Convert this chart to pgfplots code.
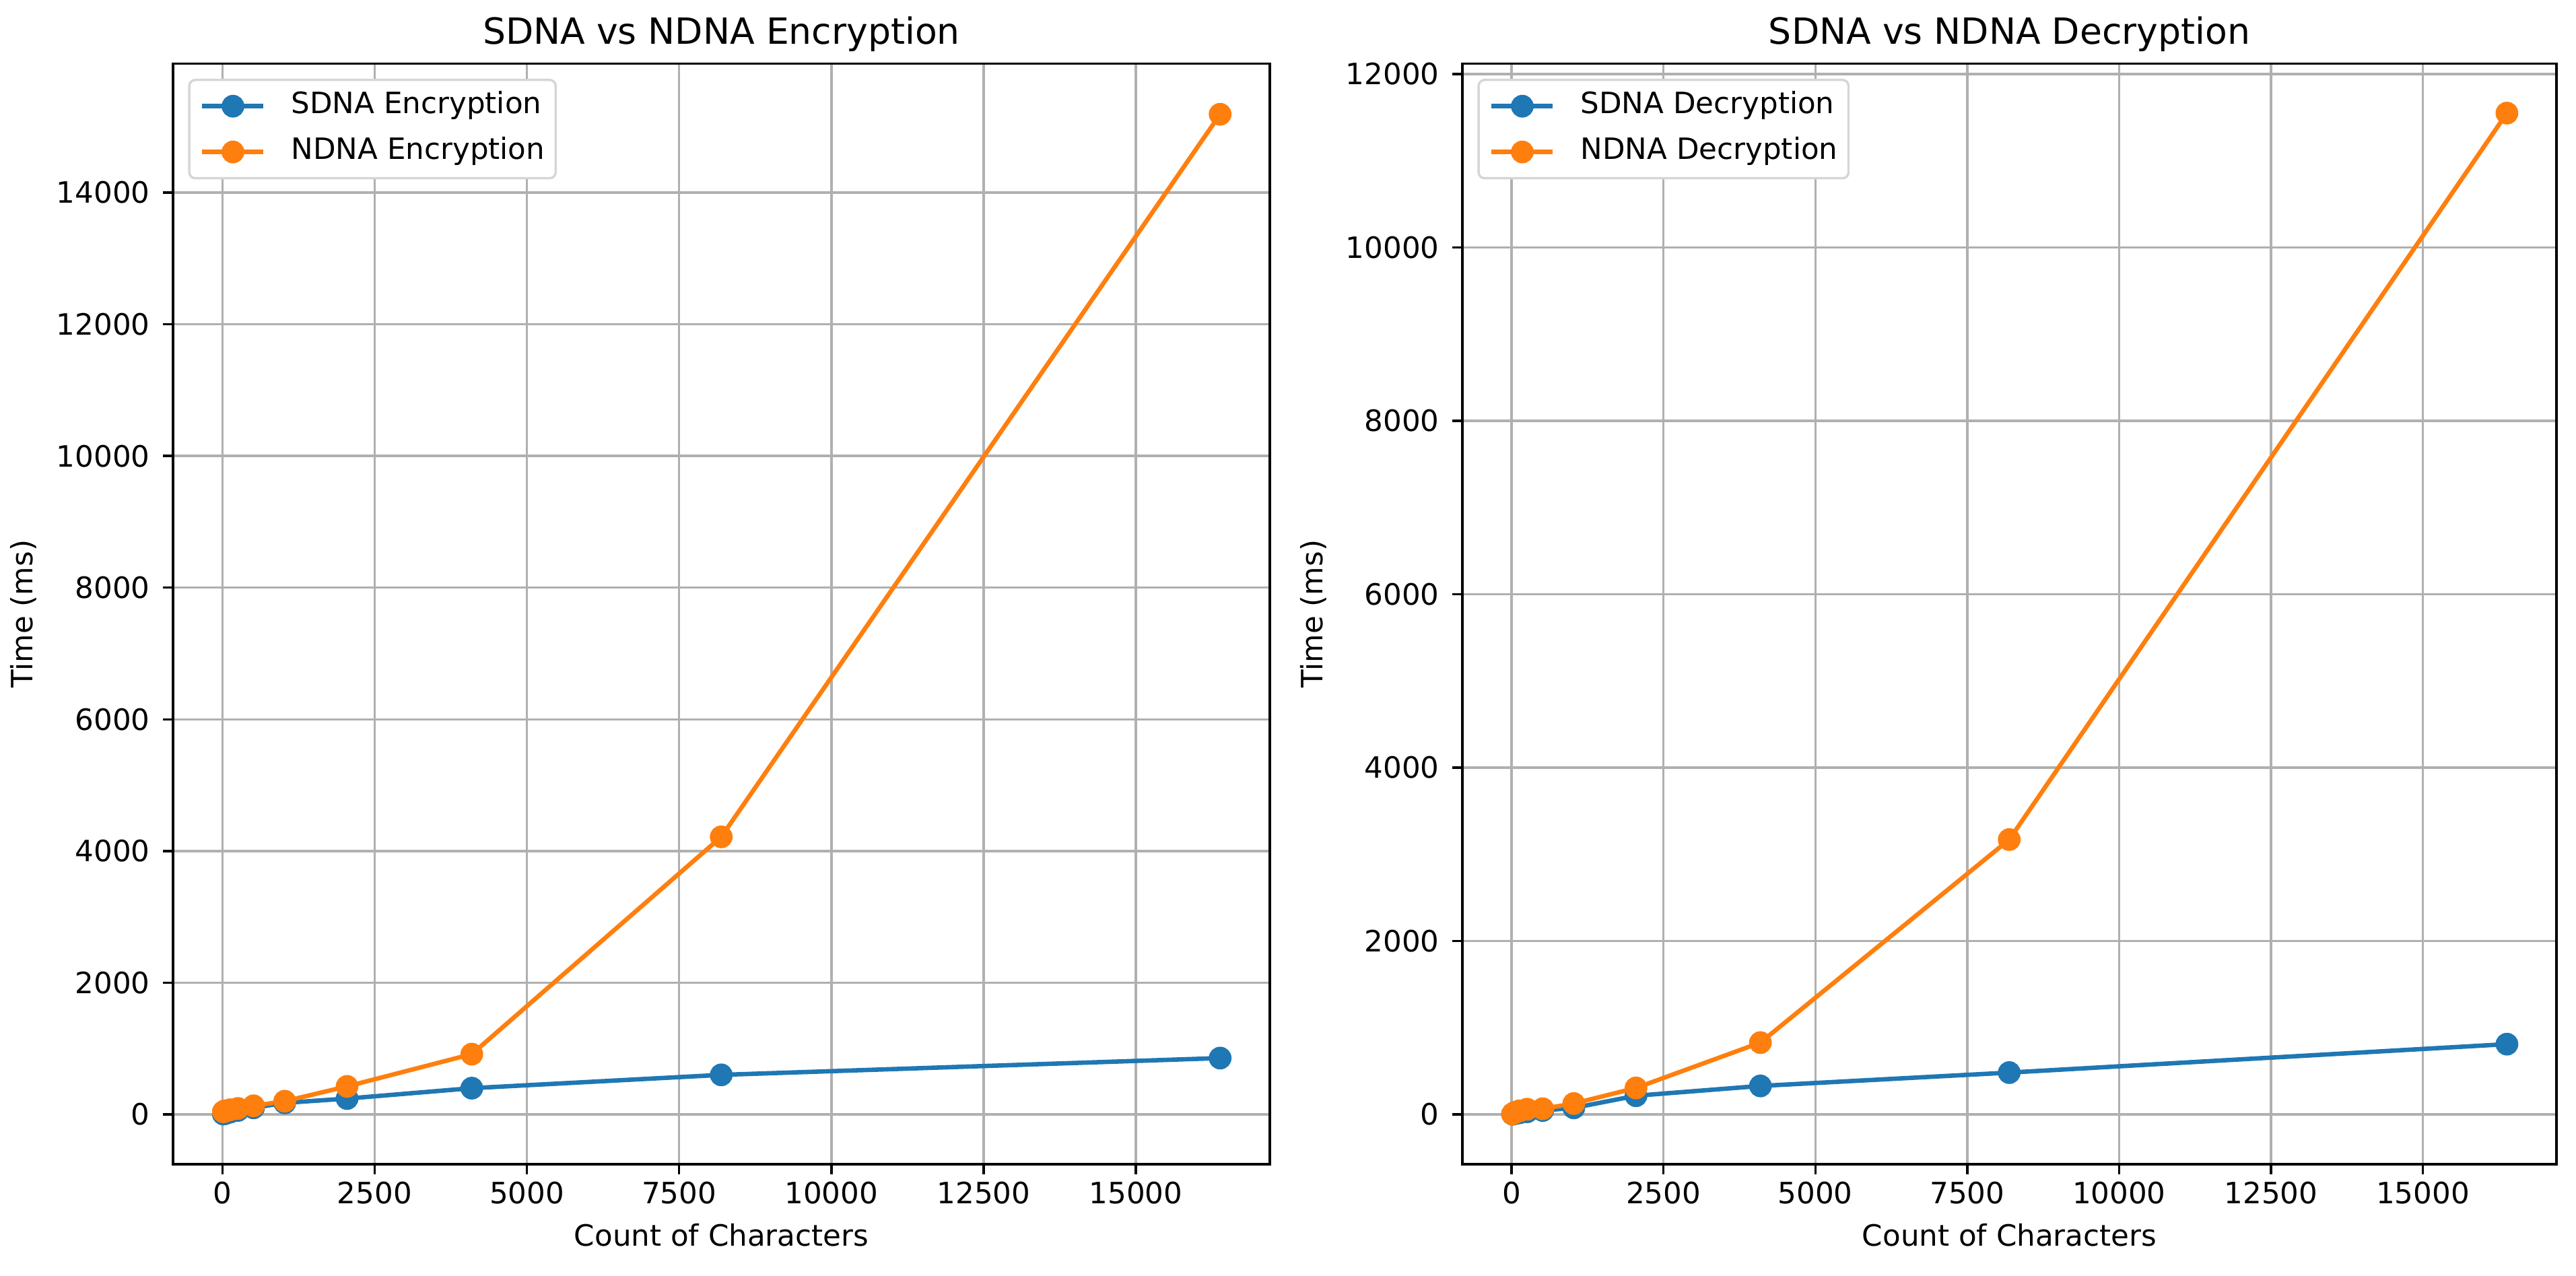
\documentclass[border=0pt]{standalone}
\usepackage{fontspec}
\setmainfont{DejaVu Sans}
\usepackage{pgfplots}
\pgfplotsset{compat=1.18}
\definecolor{tabblue}{HTML}{1F77B4}
\definecolor{taborange}{HTML}{FF7F0E}
\definecolor{gridgray}{HTML}{B0B0B0}
\definecolor{legedge}{HTML}{D6D6D6}
\pgfplotsset{
  mystyle/.style={
    scale only axis, height=408.6pt,
    axis line style={black, line width=0.87pt},
    tick align=outside, tick pos=left,
    major tick length=3.8pt,
    every tick/.style={black, line width=0.87pt},
    grid=major, major grid style={gridgray, line width=0.87pt},
    scaled ticks=false,
    /pgf/number format/1000 sep={},
    /pgf/number format/assume math mode=true,
    ticklabel style={font=\fontsize{10.9}{13}\selectfont},
    xticklabel style={anchor=base, inner sep=0pt, yshift=-10.8pt},
    yticklabel style={anchor=east, inner sep=0pt, xshift=-4.6pt},
    xtick={0,2500,5000,7500,10000,12500,15000},
    xmin=-810, xmax=17200,
    title style={font=\fontsize{13.4}{16}\selectfont, at={(axis description cs:0.5,1.0033)}, anchor=base, inner sep=0pt},
    xlabel style={font=\fontsize{10.9}{13}\selectfont, at={(axis description cs:0.5,-0.0744)}, anchor=base, inner sep=0pt},
    ylabel style={font=\fontsize{10.9}{13}\selectfont, at={(axis description cs:-0.1364,0.5)}, anchor=center, inner sep=0pt},
    xlabel={Count of Characters}, ylabel={Time (ms)},
    legend style={at={(axis description cs:0,1)}, anchor=north west, xshift=5.6pt, yshift=-5.6pt,
      draw=legedge, line width=0.87pt, rounded corners=2.2pt, fill=white,
      inner xsep=4pt, inner ysep=4.5pt, row sep=6.5pt,
      font=\fontsize{10.9}{13}\selectfont,
      nodes={inner sep=0pt, text height=8pt, text depth=2.5pt}},
    legend cell align=left,
    legend image code/.code={\draw[mark repeat=2,mark phase=2,#1] plot coordinates {(0pt,0pt) (11.4pt,0pt) (22.75pt,0pt)}; \path (32.25pt,0pt);},
    every axis plot/.append style={line width=1.64pt, mark=*, mark size=3.4pt, mark options={solid}},
  }
}
\begin{document}
\begin{tikzpicture}
\path[use as bounding box] (0,0) rectangle (956.5pt,473.75pt);
\begin{axis}[mystyle, at={(64.25pt,41.5pt)}, anchor=south west, width=407.25pt,
  ymin=-757, ymax=15958, ytick={0,2000,4000,6000,8000,10000,12000,14000},
  title={SDNA vs NDNA Encryption}]
\addplot[color=tabblue] coordinates {(16,5) (32,10) (64,18) (128,35) (256,60) (512,100) (1024,175) (2048,240) (4096,398) (8192,600) (16384,855)};
\addlegendentry{SDNA Encryption}
\addplot[color=taborange] coordinates {(16,40) (32,50) (64,55) (128,70) (256,90) (512,130) (1024,200) (2048,425) (4096,915) (8192,4215) (16384,15190)};
\addlegendentry{NDNA Encryption}
\end{axis}
\begin{axis}[mystyle, at={(543pt,41.5pt)}, anchor=south west, width=406.25pt,
  ymin=-575, ymax=12120, ytick={0,2000,4000,6000,8000,10000,12000},
  title={SDNA vs NDNA Decryption}]
\addplot[color=tabblue] coordinates {(16,2) (32,5) (64,10) (128,18) (256,30) (512,45) (1024,75) (2048,215) (4096,328) (8192,482) (16384,810)};
\addlegendentry{SDNA Decryption}
\addplot[color=taborange] coordinates {(16,5) (32,15) (64,25) (128,40) (256,60) (512,65) (1024,125) (2048,305) (4096,828) (8192,3170) (16384,11550)};
\addlegendentry{NDNA Decryption}
\end{axis}
\end{tikzpicture}
\end{document}
